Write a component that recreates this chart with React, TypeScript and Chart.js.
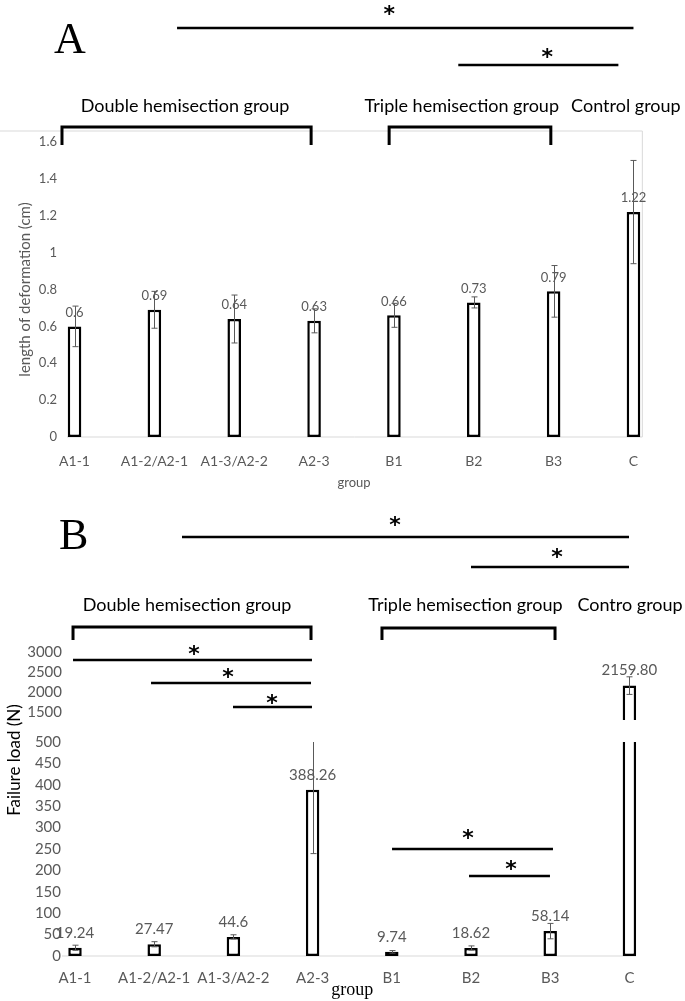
import React, { useEffect, useRef } from "react";
import { Chart, registerables } from "chart.js";

Chart.register(...registerables);

// ---------------- data ----------------
const categories = ["A1-1", "A1-2/A2-1", "A1-3/A2-2", "A2-3", "B1", "B2", "B3", "C"];

// Panel A: length of deformation (cm)
const deformation = [0.6, 0.69, 0.64, 0.63, 0.66, 0.73, 0.79, 1.22];
const deformationSd = [0.11, 0.1, 0.13, 0.065, 0.065, 0.03, 0.14, 0.28];
const deformationTicks = [0, 0.2, 0.4, 0.6, 0.8, 1, 1.2, 1.4, 1.6];

// Panel B: failure load (N)
const failureLoad = [19.24, 27.47, 44.6, 388.26, 9.74, 18.62, 58.14, 2159.8];
const failureSd = [6, 6, 5, 149, 3, 5, 18, 220];
const failureLowerTicks = [0, 50, 100, 150, 200, 250, 300, 350, 400, 450, 500];
const failureUpperTicks = [1500, 2000, 2500, 3000];

const groupNamesA = ["Double hemisection group", "Triple hemisection group", "Control group"];
const groupNamesB = ["Double hemisection group", "Triple hemisection group", "Contro group"];

// ---------------- styles ----------------
const GRAY = "#595959";
const FRAME = "#d9d9d9";
const SANS = "Lato";
const SERIF = '"Liberation Serif"';
const UPPER_MIN = 1300;

type Ann =
  | { kind: "text"; text: string; x: number; y: number; font: string; color: string; align: CanvasTextAlign; rot?: number }
  | { kind: "star"; x: number; y: number }
  | { kind: "line"; x1: number; x2: number; y: number; w: number; color?: string }
  | { kind: "vline"; x: number; y1: number; y2: number; w: number; color?: string }
  | { kind: "bracket"; x1: number; x2: number; y: number; leg: number };

// x in category units, y in canvas pixels
const backA: Ann[] = [
  { kind: "line", x1: -0.934, x2: 7.111, y: 131, w: 1, color: FRAME },
  { kind: "vline", x: 7.111, y1: 131, y2: 437, w: 1, color: FRAME },
  { kind: "line", x1: -0.094, x2: 7.111, y: 437, w: 1, color: FRAME },
];
const frontA: Ann[] = [
  { kind: "text", text: "A", x: -0.257, y: 53, font: `44px ${SERIF}`, color: "#000", align: "left" },
  { kind: "line", x1: 1.284, x2: 7.0, y: 28, w: 2.5 },
  { kind: "star", x: 3.94, y: 10 },
  { kind: "line", x1: 4.806, x2: 6.811, y: 65, w: 2.5 },
  { kind: "star", x: 5.921, y: 53 },
  { kind: "text", text: groupNamesA[0], x: 1.385, y: 111.5, font: `18px ${SANS}`, color: "#000", align: "center" },
  { kind: "text", text: groupNamesA[1], x: 4.85, y: 111.5, font: `18px ${SANS}`, color: "#000", align: "center" },
  { kind: "text", text: groupNamesA[2], x: 6.905, y: 111.5, font: `18px ${SANS}`, color: "#000", align: "center" },
  { kind: "bracket", x1: -0.157, x2: 2.963, y: 127, leg: 18 },
  { kind: "bracket", x1: 3.94, x2: 5.965, y: 127, leg: 18 },
];

const backB: Ann[] = [{ kind: "line", x1: -0.164, x2: 7.083, y: 456, w: 1, color: FRAME }];
const frontB: Ann[] = [
  { kind: "text", text: "B", x: -0.202, y: 49, font: `44px ${SERIF}`, color: "#000", align: "left" },
  { kind: "line", x1: 1.351, x2: 6.995, y: 37, w: 2.5 },
  { kind: "star", x: 4.04, y: 21 },
  { kind: "line", x1: 5.0, x2: 6.995, y: 67, w: 2.5 },
  { kind: "star", x: 6.086, y: 53 },
  { kind: "text", text: groupNamesB[0], x: 1.414, y: 111, font: `18px ${SANS}`, color: "#000", align: "center" },
  { kind: "text", text: groupNamesB[1], x: 4.93, y: 111, font: `18px ${SANS}`, color: "#000", align: "center" },
  { kind: "text", text: groupNamesB[2], x: 7.008, y: 111, font: `18px ${SANS}`, color: "#000", align: "center" },
  { kind: "bracket", x1: -0.025, x2: 2.98, y: 127, leg: 13 },
  { kind: "bracket", x1: 3.876, x2: 6.061, y: 128, leg: 12 },
  { kind: "line", x1: -0.025, x2: 2.992, y: 160, w: 2.5 },
  { kind: "star", x: 1.503, y: 150 },
  { kind: "line", x1: 0.96, x2: 2.98, y: 183, w: 2.5 },
  { kind: "star", x: 1.932, y: 173 },
  { kind: "line", x1: 1.995, x2: 2.992, y: 207, w: 2.5 },
  { kind: "star", x: 2.487, y: 199 },
  { kind: "line", x1: 4.003, x2: 6.035, y: 349, w: 2.5 },
  { kind: "star", x: 4.962, y: 334 },
  { kind: "line", x1: 4.975, x2: 5.997, y: 376, w: 2.5 },
  { kind: "star", x: 5.505, y: 365 },
  { kind: "text", text: "Failure load (N)", x: -0.758, y: 260, font: `17px ${SANS}`, color: "#000", align: "center", rot: -Math.PI / 2 },
];

function drawAnns(chart: any, anns: Ann[]) {
  const ctx: CanvasRenderingContext2D = chart.ctx;
  const xs = chart.scales.x;
  const px = (v: number) => xs.getPixelForValue(v);
  ctx.save();
  for (const a of anns) {
    if (a.kind === "line") {
      ctx.beginPath();
      ctx.strokeStyle = a.color || "#000";
      ctx.lineWidth = a.w;
      ctx.moveTo(px(a.x1), a.y);
      ctx.lineTo(px(a.x2), a.y);
      ctx.stroke();
    } else if (a.kind === "vline") {
      ctx.beginPath();
      ctx.strokeStyle = a.color || "#000";
      ctx.lineWidth = a.w;
      ctx.moveTo(px(a.x), a.y1);
      ctx.lineTo(px(a.x), a.y2);
      ctx.stroke();
    } else if (a.kind === "bracket") {
      ctx.beginPath();
      ctx.strokeStyle = "#000";
      ctx.lineWidth = 3;
      ctx.lineJoin = "miter";
      ctx.moveTo(px(a.x1), a.y + a.leg);
      ctx.lineTo(px(a.x1), a.y);
      ctx.lineTo(px(a.x2), a.y);
      ctx.lineTo(px(a.x2), a.y + a.leg);
      ctx.stroke();
    } else if (a.kind === "star") {
      ctx.font = `bold 22px "DejaVu Sans"`;
      ctx.fillStyle = "#000";
      ctx.textAlign = "center";
      ctx.textBaseline = "alphabetic";
      const m = ctx.measureText("*");
      const off = (m.actualBoundingBoxAscent - m.actualBoundingBoxDescent) / 2;
      ctx.fillText("*", px(a.x), a.y + off);
    } else if (a.kind === "text") {
      ctx.font = a.font;
      ctx.fillStyle = a.color;
      ctx.textAlign = a.align;
      if (a.rot) {
        ctx.save();
        ctx.translate(px(a.x), a.y);
        ctx.rotate(a.rot);
        ctx.textBaseline = "middle";
        ctx.fillText(a.text, 0, 0);
        ctx.restore();
      } else {
        ctx.textBaseline = "alphabetic";
        ctx.fillText(a.text, px(a.x), a.y);
      }
    }
  }
  ctx.restore();
}

function drawErr(ctx: CanvasRenderingContext2D, x: number, top: number, bot: number) {
  const xx = Math.round(x) + 0.5;
  ctx.beginPath();
  ctx.moveTo(xx, top);
  ctx.lineTo(xx, bot);
  ctx.moveTo(xx - 3, top);
  ctx.lineTo(xx + 3, top);
  ctx.moveTo(xx - 3, bot);
  ctx.lineTo(xx + 3, bot);
  ctx.stroke();
}

const overlayA = {
  id: "overlayA",
  beforeDatasetsDraw(chart: any) {
    drawAnns(chart, backA);
  },
  afterDatasetsDraw(chart: any) {
    const ctx: CanvasRenderingContext2D = chart.ctx;
    const ys = chart.scales.y;
    const bars = chart.getDatasetMeta(0).data;
    ctx.save();
    ctx.font = `13px ${SANS}`;
    ctx.fillStyle = GRAY;
    ctx.textAlign = "center";
    ctx.textBaseline = "middle";
    deformation.forEach((v, i) => {
      ctx.fillText(String(v), bars[i].x, ys.getPixelForValue(v) - 14);
    });
    ctx.strokeStyle = GRAY;
    ctx.lineWidth = 1;
    deformation.forEach((v, i) => {
      drawErr(ctx, bars[i].x, ys.getPixelForValue(v + deformationSd[i]), ys.getPixelForValue(v - deformationSd[i]));
    });
    ctx.restore();
    drawAnns(chart, frontA);
  },
};

const fmtB = (v: number) => (v >= 1000 ? v.toFixed(2) : String(v));

const overlayB = {
  id: "overlayB",
  beforeDatasetsDraw(chart: any) {
    drawAnns(chart, backB);
  },
  beforeDatasetDraw(chart: any, args: any) {
    const ctx: CanvasRenderingContext2D = chart.ctx;
    const s = chart.scales[args.meta.yAxisID];
    const ca = chart.chartArea;
    ctx.save();
    ctx.beginPath();
    ctx.rect(ca.left - 5, s.top, ca.right - ca.left + 10, s.bottom - s.top + 2);
    ctx.clip();
  },
  afterDatasetDraw(chart: any) {
    chart.ctx.restore();
  },
  afterDatasetsDraw(chart: any) {
    const ctx: CanvasRenderingContext2D = chart.ctx;
    const lo = chart.scales.y;
    const hi = chart.scales.y2;
    const ca = chart.chartArea;
    const bars = chart.getDatasetMeta(0).data;
    ctx.save();
    ctx.font = `15px ${SANS}`;
    ctx.fillStyle = GRAY;
    ctx.textAlign = "center";
    ctx.textBaseline = "middle";
    failureLoad.forEach((v, i) => {
      const s = v <= lo.max ? lo : hi;
      ctx.fillText(fmtB(v), bars[i].x, s.getPixelForValue(v) - 15);
    });
    ctx.strokeStyle = GRAY;
    ctx.lineWidth = 1;
    failureLoad.forEach((v, i) => {
      const s = v <= lo.max ? lo : hi;
      ctx.save();
      ctx.beginPath();
      ctx.rect(ca.left, s.top, ca.right - ca.left, s.bottom - s.top);
      ctx.clip();
      drawErr(ctx, bars[i].x, s.getPixelForValue(v + failureSd[i]), s.getPixelForValue(v - failureSd[i]));
      ctx.restore();
    });
    ctx.restore();
    drawAnns(chart, frontB);
  },
};

const tickStr = (v: any) => String(v);

function widest(labels: number[], font: string) {
  const c = document.createElement("canvas").getContext("2d") as CanvasRenderingContext2D;
  c.font = font;
  return Math.max(...labels.map((l) => c.measureText(String(l)).width));
}

export default function App() {
  const refA = useRef<HTMLCanvasElement>(null);
  const refB = useRef<HTMLCanvasElement>(null);

  useEffect(() => {
    // right-aligned, mirrored tick labels placed over the left margin
    const axisWA = 34.6;
    const axisWB = 35.4;
    const padA = 57 - axisWA - widest(deformationTicks, `normal 13px ${SANS}`);
    const padBlo = 61 - axisWB - widest(failureLowerTicks, `normal 15px ${SANS}`);
    const padBhi = 62 - axisWB - widest(failureUpperTicks, `normal 15px ${SANS}`);

    const chartA = new Chart(refA.current as HTMLCanvasElement, {
      type: "bar",
      data: {
        labels: categories,
        datasets: [
          {
            data: deformation,
            backgroundColor: "#ffffff",
            borderColor: "#000000",
            borderWidth: 2.5,
            borderSkipped: false,
            barPercentage: 0.17,
            categoryPercentage: 1,
          },
        ],
      },
      options: {
        animation: false,
        responsive: false,
        layout: { padding: { top: 142, right: 11.6, bottom: 0, left: 0 } },
        plugins: { legend: { display: false }, tooltip: { enabled: false } },
        scales: {
          x: {
            grid: { display: false, drawTicks: false },
            border: { display: false },
            ticks: { color: GRAY, font: { family: SANS, size: 14 }, padding: 15.6, maxRotation: 0, autoSkip: false },
            title: { display: true, text: "group", color: GRAY, font: { family: SANS, size: 13 }, padding: { top: 0, bottom: 9.2 } },
            afterFit: (s: any) => {
              s.height = 63;
            },
          },
          y: {
            min: 0,
            max: 1.6,
            afterBuildTicks: (s: any) => {
              s.ticks = deformationTicks.map((v) => ({ value: v }));
            },
            grid: { display: false, drawTicks: false },
            border: { display: false },
            ticks: { color: GRAY, font: { family: SANS, size: 13 }, mirror: true, crossAlign: "far", padding: padA, autoSkip: false, callback: tickStr },
            title: { display: true, text: "length of deformation (cm)", color: GRAY, font: { family: SANS, size: 15 }, padding: { top: 16, bottom: 0 } },
            afterFit: (s: any) => {
              s.width = axisWA;
            },
          },
        },
      },
      plugins: [overlayA],
    } as any);

    const chartB = new Chart(refB.current as HTMLCanvasElement, {
      type: "bar",
      data: {
        labels: categories,
        datasets: [
          {
            data: failureLoad,
            yAxisID: "y",
            grouped: false,
            backgroundColor: "#ffffff",
            borderColor: "#000000",
            borderWidth: 2.5,
            borderSkipped: false,
            barPercentage: 0.17,
            categoryPercentage: 1,
          },
          {
            data: failureLoad.map((v) => (v > UPPER_MIN ? v : null)),
            yAxisID: "y2",
            grouped: false,
            backgroundColor: "#ffffff",
            borderColor: "#000000",
            borderWidth: 2.5,
            borderSkipped: "start",
            barPercentage: 0.17,
            categoryPercentage: 1,
          },
        ],
      },
      options: {
        animation: false,
        responsive: false,
        layout: { padding: { top: 152, right: 16, bottom: 0, left: 0 } },
        plugins: { legend: { display: false }, tooltip: { enabled: false } },
        scales: {
          x: {
            grid: { display: false, drawTicks: false },
            border: { display: false },
            ticks: { color: GRAY, font: { family: SANS, size: 15 }, padding: 13, maxRotation: 0, autoSkip: false },
            title: { display: true, text: "group", color: "#000", font: { family: "Liberation Serif", size: 18 }, padding: { top: 0, bottom: 0 } },
            afterFit: (s: any) => {
              s.height = 45;
            },
          },
          y: {
            position: "left",
            stack: "load",
            stackWeight: 214,
            min: 0,
            max: 500,
            afterBuildTicks: (s: any) => {
              s.ticks = failureLowerTicks.map((v) => ({ value: v }));
            },
            grid: { display: false, drawTicks: false },
            border: { display: false },
            ticks: { color: GRAY, font: { family: SANS, size: 15 }, mirror: true, crossAlign: "far", padding: padBlo, autoSkip: false, callback: tickStr },
            afterFit: (s: any) => {
              s.width = axisWB;
            },
          },
          yGap: {
            type: "linear",
            position: "left",
            stack: "load",
            stackWeight: 22,
            grid: { display: false, drawTicks: false },
            border: { display: false },
            ticks: { display: false },
            afterFit: (s: any) => {
              s.width = axisWB;
            },
          },
          y2: {
            type: "linear",
            position: "left",
            stack: "load",
            stackWeight: 68,
            min: UPPER_MIN,
            max: 3000,
            afterBuildTicks: (s: any) => {
              s.ticks = failureUpperTicks.map((v) => ({ value: v }));
            },
            grid: { display: false, drawTicks: false },
            border: { display: false },
            ticks: { color: GRAY, font: { family: SANS, size: 15 }, mirror: true, crossAlign: "far", padding: padBhi, autoSkip: false, callback: tickStr },
            afterFit: (s: any) => {
              s.width = axisWB;
            },
          },
        },
      },
      plugins: [overlayB],
    } as any);

    return () => {
      chartA.destroy();
      chartB.destroy();
    };
  }, []);

  return (
    <div style={{ position: "absolute", left: 0, top: 0, width: 685, height: 1001, background: "#ffffff" }}>
      <canvas ref={refA} width={685} height={500} style={{ position: "absolute", left: 0, top: 0, display: "block" }} />
      <canvas ref={refB} width={685} height={501} style={{ position: "absolute", left: 0, top: 500, display: "block" }} />
    </div>
  );
}
